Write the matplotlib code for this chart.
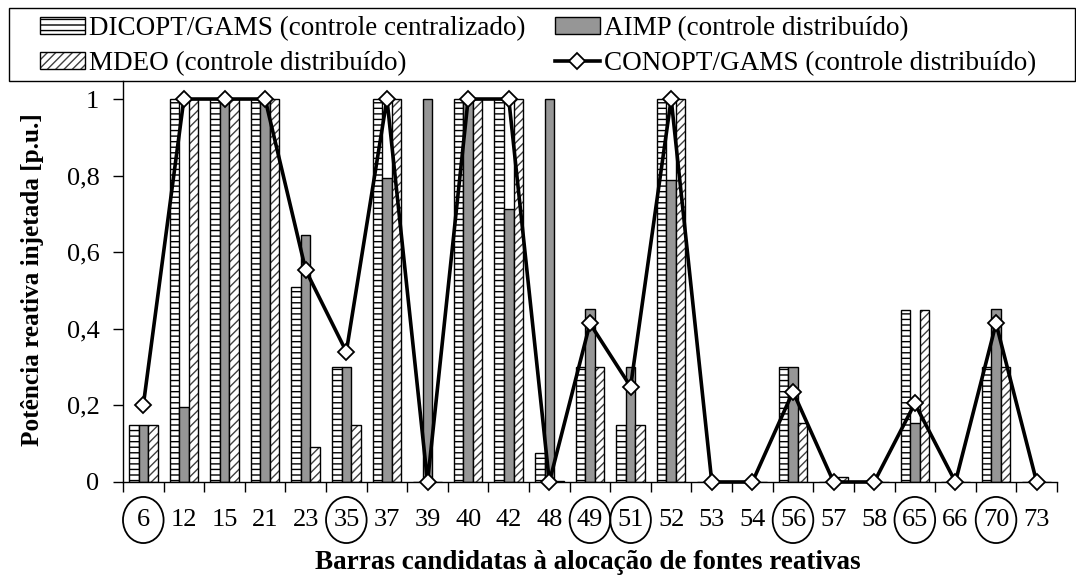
import numpy as np
import matplotlib
matplotlib.use("Agg")
import matplotlib.pyplot as plt
from matplotlib.patches import Patch, Ellipse, Rectangle
from matplotlib.lines import Line2D
from matplotlib.legend_handler import HandlerTuple
import matplotlib.transforms as mtransforms

plt.rcParams["font.family"] = ["Liberation Serif", "DejaVu Serif"]
plt.rcParams["hatch.linewidth"] = 1.0

# barras candidatas e resultados de cada método
barras = ["6", "12", "15", "21", "23", "35", "37", "39", "40", "42", "48", "49",
          "51", "52", "53", "54", "56", "57", "58", "65", "66", "70", "73"]
barras_destacadas = ["6", "35", "49", "51", "56", "65", "70"]

dicopt = [0.15, 1.0, 1.0, 1.0, 0.51, 0.30, 1.0, 0.0, 1.0, 1.0, 0.075, 0.30,
          0.15, 1.0, 0.0, 0.0, 0.30, 0.0, 0.0, 0.45, 0.0, 0.30, 0.0]
aimp = [0.15, 0.197, 1.0, 1.0, 0.645, 0.30, 0.795, 1.0, 1.0, 0.714, 1.0, 0.452,
        0.30, 0.789, 0.0, 0.0, 0.30, 0.0, 0.0, 0.153, 0.0, 0.452, 0.0]
mdeo = [0.15, 1.0, 1.0, 1.0, 0.092, 0.15, 1.0, 0.0, 1.0, 1.0, 0.003, 0.30,
        0.15, 1.0, 0.0, 0.0, 0.153, 0.013, 0.0, 0.45, 0.0, 0.30, 0.0]
conopt = [0.20, 1.0, 1.0, 1.0, 0.553, 0.34, 1.0, 0.0, 1.0, 1.0, 0.0, 0.414,
          0.249, 1.0, 0.0, 0.0, 0.236, 0.0, 0.0, 0.205, 0.0, 0.414, 0.0]

fig = plt.figure(figsize=(10.76, 5.8), dpi=100)
ax = fig.add_axes([0.1143, 0.1690, 0.8680, 0.6913])

x = np.arange(len(barras))
w = 0.235
cinza = "#969696"
cinza_hachura = "#404040"

# DICOPT: hachura horizontal
ax.bar(x - w, dicopt, w, color="white", edgecolor="black", hatch="---", linewidth=1.0)
# AIMP: cinza sólido
ax.bar(x, aimp, w, color=cinza, edgecolor="black", linewidth=1.0)
# MDEO: hachura diagonal cinza + contorno preto
ax.bar(x + w, mdeo, w, color="white", edgecolor=cinza_hachura, hatch="////", linewidth=0)
ax.bar(x + w, mdeo, w, fill=False, edgecolor="black", linewidth=1.0)

# CONOPT: linha com losangos
ax.plot(x, conopt, color="black", linewidth=2.6, marker="D", markersize=8.6,
        markerfacecolor="white", markeredgecolor="black", markeredgewidth=1.3,
        clip_on=False, zorder=5)

ax.set_xlim(-0.5, len(barras) - 0.5)
ax.set_ylim(0, 1.047)
ax.spines["top"].set_visible(False)
ax.spines["right"].set_visible(False)
ax.spines["left"].set_linewidth(1.0)
ax.spines["bottom"].set_linewidth(1.0)

ax.set_yticks([0, 0.2, 0.4, 0.6, 0.8, 1.0])
ax.set_yticklabels(["0", "0,2", "0,4", "0,6", "0,8", "1"], fontsize=19)
ax.tick_params(axis="y", direction="out", length=7, width=1.0, pad=10)

# marcas entre as categorias, rótulos no centro
ax.set_xticks(np.arange(-0.5, len(barras)))
ax.set_xticklabels([])
ax.tick_params(axis="x", direction="out", length=7, width=1.0)

trans = mtransforms.blended_transform_factory(ax.transData, ax.transAxes)
for i, b in enumerate(barras):
    ax.text(i, -0.0948, b, transform=trans, ha="center", va="center", fontsize=19)
    if b in barras_destacadas:
        ax.add_patch(Ellipse((i, -0.0948), 1.0, 0.115, transform=trans,
                             fill=False, edgecolor="black", linewidth=1.3, clip_on=False))

fig.text(588 / 1076, 1 - 569 / 580, "Barras candidatas à alocação de fontes reativas",
         ha="center", va="baseline", fontsize=19.5, fontweight="bold")
fig.text(33 / 1076, 1 - 280 / 580, "Potência reativa injetada [p.u.]",
         ha="center", va="center", rotation=90, fontsize=18.2, fontweight="bold")

# legenda em caixa no topo
fig.add_artist(Rectangle((9 / 1076, 1 - 81 / 580), 1066 / 1076, 73 / 580,
                         transform=fig.transFigure, fill=False,
                         edgecolor="black", linewidth=1.0))

h_dicopt = Patch(facecolor="white", edgecolor="black", hatch="---", linewidth=1.0)
h_aimp = Patch(facecolor=cinza, edgecolor="black", linewidth=1.0)
h_mdeo = (Patch(facecolor="white", edgecolor=cinza_hachura, hatch="////", linewidth=0),
          Patch(fill=False, edgecolor="black", linewidth=1.0))
h_conopt = Line2D([], [], color="black", linewidth=2.6, marker="D", markersize=8.6,
                  markerfacecolor="white", markeredgecolor="black", markeredgewidth=1.3)

leg_kw = dict(frameon=False, fontsize=19.5, handlelength=1.65, handleheight=0.62,
              handletextpad=0.15, labelspacing=0.37, borderpad=0.0, borderaxespad=0.0,
              handler_map={tuple: HandlerTuple(ndivide=1)})
leg1 = fig.legend([h_dicopt, h_mdeo],
                  ["DICOPT/GAMS (controle centralizado)", "MDEO (controle distribuído)"],
                  loc="upper left", bbox_to_anchor=(40 / 1076, 1 - 16 / 580), **leg_kw)
leg2 = fig.legend([h_aimp, h_conopt],
                  ["AIMP (controle distribuído)", "CONOPT/GAMS (controle distribuído)"],
                  loc="upper left", bbox_to_anchor=(555 / 1076, 1 - 16 / 580), **leg_kw)

fig.savefig("out.png", dpi=100)
